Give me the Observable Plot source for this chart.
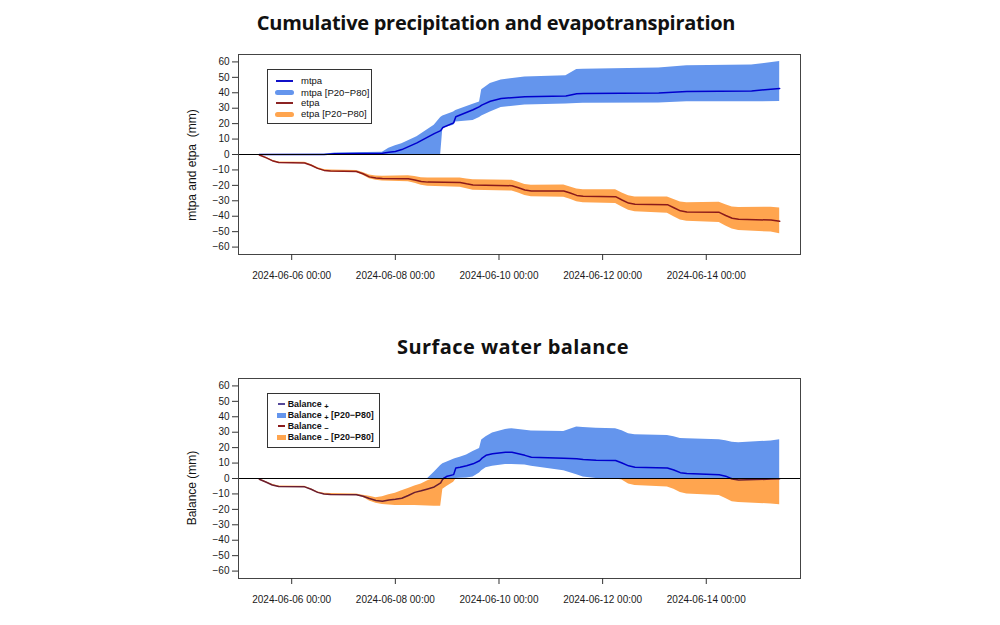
<!DOCTYPE html>
<html><head><meta charset="utf-8">
<script src="https://cdn.jsdelivr.net/npm/d3@7"></script>
<script src="https://cdn.jsdelivr.net/npm/@observablehq/plot@0.6"></script>
<style>
body{margin:0;background:#fff;width:1000px;height:625px;position:relative;overflow:hidden;font-family:"Liberation Sans",Arial,sans-serif;}
.title{position:absolute;width:600px;text-align:center;font-family:"Open Sans",sans-serif;font-weight:700;font-size:20px;line-height:20px;color:#111;white-space:nowrap;}
.chart{position:absolute;left:0;}
.ylab{position:absolute;width:200px;height:14px;line-height:14px;text-align:center;font-size:12px;color:#111;transform:rotate(-90deg);white-space:pre;}
.legend{position:absolute;border:1px solid #333;background:#fff;box-sizing:border-box;}
.row{position:absolute;left:0;right:0;height:12px;}
.row .txt{position:absolute;top:0;line-height:12px;white-space:nowrap;color:#111;}
.sw{position:absolute;}
sub.s{font-size:0.85em;vertical-align:-0.3em;line-height:0;}
</style></head>
<body>
<div class="title" style="left:196px;top:13px;letter-spacing:-0.28px;">Cumulative precipitation and evapotranspiration</div>
<div class="title" style="left:213px;top:337px;letter-spacing:0.45px;">Surface water balance</div>
<div id="c1" class="chart" style="top:40px;"></div>
<div id="c2" class="chart" style="top:364px;"></div>
<div class="ylab" style="left:92px;top:158px;">mtpa and etpa  (mm)</div>
<div class="ylab" style="left:92px;top:481px;">Balance (mm)</div>

<div class="legend" style="left:267px;top:69px;width:105px;height:55px;font-size:9.5px;">
  <div class="row" style="top:5px;"><div class="sw" style="left:8px;width:17px;top:5px;height:1.6px;background:#1010c8;"></div><div class="txt" style="left:33px;">mtpa</div></div>
  <div class="row" style="top:16.7px;"><div class="sw" style="left:7px;width:19px;top:3.5px;height:5px;border-radius:2.5px;background:#6495ED;"></div><div class="txt" style="left:33px;">mtpa [P20−P80]</div></div>
  <div class="row" style="top:27.3px;"><div class="sw" style="left:8px;width:17px;top:5px;height:1.6px;background:#8B2323;"></div><div class="txt" style="left:33px;">etpa</div></div>
  <div class="row" style="top:38.3px;"><div class="sw" style="left:7px;width:19px;top:3.5px;height:5px;border-radius:2.5px;background:#FFA54F;"></div><div class="txt" style="left:33px;">etpa [P20−P80]</div></div>
</div>

<div class="legend" style="left:267px;top:393px;width:113px;height:55px;font-size:8.9px;font-weight:700;">
  <div class="row" style="top:4.3px;"><div class="sw" style="left:9.7px;width:7.5px;top:4.8px;height:2.4px;background:#54489a;"></div><div class="txt" style="left:19.7px;">Balance <sub class="s">+</sub></div></div>
  <div class="row" style="top:15.3px;"><div class="sw" style="left:9px;width:9px;top:3.5px;height:5px;background:#6495ED;"></div><div class="txt" style="left:19.7px;">Balance <sub class="s">+</sub> [P20−P80]</div></div>
  <div class="row" style="top:26.3px;"><div class="sw" style="left:9.7px;width:7.5px;top:4.8px;height:2.4px;background:#8B1A1A;"></div><div class="txt" style="left:19.7px;">Balance <sub class="s">−</sub></div></div>
  <div class="row" style="top:37.3px;"><div class="sw" style="left:9px;width:9px;top:3.5px;height:5px;background:#FFA54F;"></div><div class="txt" style="left:19.7px;">Balance <sub class="s">−</sub> [P20−P80]</div></div>
</div>

<script>
// ---- data ----
const mtpaTimes = ["2024-06-05 09:00","2024-06-06 15:00","2024-06-06 20:00","2024-06-07 18:00","2024-06-07 21:00","2024-06-08 00:00","2024-06-08 03:00","2024-06-08 10:00","2024-06-08 18:00","2024-06-08 21:00","2024-06-08 22:00","2024-06-09 03:00","2024-06-09 04:00","2024-06-09 12:00","2024-06-09 15:00","2024-06-09 16:00","2024-06-09 20:00","2024-06-10 01:00","2024-06-10 12:00","2024-06-11 07:00","2024-06-11 12:00","2024-06-11 15:00","2024-06-13 02:00","2024-06-13 15:00","2024-06-14 21:00","2024-06-15 10:00"];
const mtpaMed = [0,0,0.5,0.8,1.5,2,3.2,7.5,13.5,15.5,17.5,20.5,24.5,29,31,32,34.5,36.3,37.4,37.9,39.3,39.6,39.8,40.8,41.2,42.8];
const mtpaLo  = [0,0,0,0,0,0,0,0,0,0,17,19,21,22,24,25,27.5,30.5,32,32.8,33.1,33.2,33.4,34.2,34.2,34.3];
const mtpaHi  = [0,0.2,1,1.5,4,5.6,7,11.5,19,24,25,27.5,28.5,32.5,34,42,46,48.3,50.2,51,55,55.3,56,57.5,58,60.2];

const etpaTimes = ["2024-06-05 09:00","2024-06-05 12:00","2024-06-05 15:00","2024-06-05 18:00","2024-06-06 06:00","2024-06-06 09:00","2024-06-06 12:00","2024-06-06 15:00","2024-06-06 18:00","2024-06-07 06:00","2024-06-07 09:00","2024-06-07 12:00","2024-06-07 15:00","2024-06-07 18:00","2024-06-08 06:00","2024-06-08 09:00","2024-06-08 12:00","2024-06-08 15:00","2024-06-09 06:00","2024-06-09 09:00","2024-06-09 12:00","2024-06-10 06:00","2024-06-10 09:00","2024-06-10 12:00","2024-06-10 15:00","2024-06-11 06:00","2024-06-11 09:00","2024-06-11 12:00","2024-06-11 15:00","2024-06-12 06:00","2024-06-12 09:00","2024-06-12 12:00","2024-06-12 15:00","2024-06-13 06:00","2024-06-13 09:00","2024-06-13 12:00","2024-06-13 15:00","2024-06-14 06:00","2024-06-14 09:00","2024-06-14 12:00","2024-06-14 15:00","2024-06-15 06:00","2024-06-15 10:00"];
const etpaMed = [-0.3,-2,-4,-5.2,-5.5,-7,-9,-10.3,-10.7,-11,-12.5,-14.5,-15.3,-15.6,-15.7,-16.5,-17.5,-17.9,-18.2,-19,-19.7,-20.2,-21.5,-23,-23.6,-23.7,-25,-26.5,-27.1,-27.3,-29.5,-31.5,-32.3,-32.5,-34.5,-36.5,-37.3,-37.5,-39.5,-41.3,-42,-42.5,-43.3];
const etpaHi  = [-0.1,-1.7,-3.7,-4.8,-5.1,-6.5,-8.4,-9.7,-10.1,-10.3,-11.6,-13.3,-13.9,-14.1,-13.7,-14.3,-15,-15.2,-15.2,-15.8,-16.3,-16.7,-18,-19.4,-19.9,-19.7,-21,-22.4,-22.9,-22.8,-24.9,-26.8,-27.5,-27.5,-29.2,-30.7,-31.3,-31,-32.5,-34,-34.4,-34.2,-34.6];
const etpaLo  = [-0.5,-2.3,-4.3,-5.6,-5.9,-7.5,-9.6,-10.9,-11.3,-11.7,-13.4,-15.7,-16.7,-17.1,-17.7,-18.7,-20,-20.6,-21.2,-22.2,-23.1,-23.7,-25,-26.6,-27.3,-27.7,-29,-30.6,-31.3,-31.8,-34.1,-36.2,-37.1,-38,-40.3,-42.5,-43.3,-44,-46.3,-48.3,-49.2,-50.3,-51.3];

const balTimes = ["2024-06-05 09:00","2024-06-05 12:00","2024-06-05 15:00","2024-06-05 18:00","2024-06-06 06:00","2024-06-06 09:00","2024-06-06 12:00","2024-06-06 15:00","2024-06-06 18:00","2024-06-07 06:00","2024-06-07 09:00","2024-06-07 12:00","2024-06-07 15:00","2024-06-07 18:00","2024-06-07 21:00","2024-06-08 00:00","2024-06-08 03:00","2024-06-08 06:00","2024-06-08 09:00","2024-06-08 12:00","2024-06-08 15:00","2024-06-08 18:00","2024-06-08 21:00","2024-06-08 22:00","2024-06-09 00:00","2024-06-09 03:00","2024-06-09 04:00","2024-06-09 06:00","2024-06-09 09:00","2024-06-09 12:00","2024-06-09 15:00","2024-06-09 16:00","2024-06-09 18:00","2024-06-09 21:00","2024-06-10 03:00","2024-06-10 06:00","2024-06-10 12:00","2024-06-10 15:00","2024-06-11 06:00","2024-06-11 12:00","2024-06-11 15:00","2024-06-11 21:00","2024-06-12 06:00","2024-06-12 09:00","2024-06-12 12:00","2024-06-12 15:00","2024-06-13 06:00","2024-06-13 09:00","2024-06-13 12:00","2024-06-13 15:00","2024-06-14 06:00","2024-06-14 09:00","2024-06-14 12:00","2024-06-14 15:00","2024-06-15 06:00","2024-06-15 10:00"];
const balMed = [-0.5,-2.3,-4.2,-5.2,-5.4,-7,-9,-10,-10.3,-10.5,-11.5,-13,-14.3,-14.8,-14,-13.5,-12.8,-11,-9,-8,-6.8,-5.5,-2.8,-0.3,1.5,2.5,6.8,7.3,8.3,9.5,11.5,13,15,16,17,17,15,13.8,13.2,12.8,12.3,11.9,11.7,10,8.2,7.3,6.8,5.5,3.8,3.3,2.4,1.5,-0.3,-1,-0.4,-0.2];
const balLo  = [-0.9,-2.7,-4.6,-5.6,-5.8,-7.4,-9.4,-10.5,-10.8,-11,-12.2,-14.5,-16,-16.8,-17.2,-17.5,-17.5,-17.5,-17.5,-17.6,-17.8,-18,-18,-7,-5,-2.5,-0.5,0.2,0.3,1,3.5,5,7,8,9,9,8.8,8,5,2.5,1,0,-0.2,-1,-3.5,-4.5,-5.5,-7,-9,-10,-11,-13,-15,-15.5,-16.5,-17];
const balHi  = [-0.1,-1.9,-3.8,-4.8,-5,-6.6,-8.6,-9.5,-9.8,-10,-10.8,-11.5,-12.5,-11.8,-10.5,-9.5,-8,-6.5,-4.8,-3.5,-1.5,4,8.5,9.5,10.7,12.5,13,13.8,15.3,17.5,19.5,25,27,29.5,31.8,32.3,31.3,30.8,30.5,33.4,33,32.5,32.3,31,29,28.4,27.9,27,26,25.8,25.1,24.5,23.5,23.2,24.3,25.1];

const yTicks = [-60,-50,-40,-30,-20,-10,0,10,20,30,40,50,60];
const xTickTimes = ["2024-06-06 00:00","2024-06-08 00:00","2024-06-10 00:00","2024-06-12 00:00","2024-06-14 00:00"];
const xTickLabels = ["2024-06-06 00:00","2024-06-08 00:00","2024-06-10 00:00","2024-06-12 00:00","2024-06-14 00:00"];

// ---- build tables ----
const parse = d3.utcParse("%Y-%m-%d %H:%M");
const mtpa = mtpaTimes.map((t,i)=>({t:parse(t), med:mtpaMed[i], lo:mtpaLo[i], hi:mtpaHi[i]}));
const etpa = etpaTimes.map((t,i)=>({t:parse(t), med:etpaMed[i], lo:etpaLo[i], hi:etpaHi[i]}));
const bal  = balTimes.map((t,i)=>({t:parse(t), med:balMed[i], lo:balLo[i], hi:balHi[i]}));
const xTicks = xTickTimes.map(parse);

const t0 = parse(balTimes[0]), t1 = parse(balTimes[balTimes.length-1]);
const pad = (t1 - t0) * 0.04;
const xDomain = [new Date(+t0 - pad), new Date(+t1 + pad)];
const yDomain = [-64.8, 64.8];

// insert zero crossings so that the balance line changes colour at 0
const balLine = [];
bal.forEach((d,i)=>{
  if (i>0) { const a = bal[i-1];
    if ((a.med<0 && d.med>0) || (a.med>0 && d.med<0)) {
      const f = a.med/(a.med-d.med);
      balLine.push({t:new Date(+a.t + f*(d.t-a.t)), med:0});
    }
  }
  balLine.push(d);
});

const BLUE_BAND = "#6495ED", BLUE_LINE = "#0000CD", ORANGE = "#FFA54F", RED_LINE = "#8B1A1A";

function frameMarks(){
  return [
    Plot.ruleY([0], {stroke:"#000", strokeWidth:1}),
    Plot.frame({stroke:"#444", strokeWidth:1}),
    Plot.axisY(yTicks, {tickSize:6, tickPadding:3, label:null, fontSize:10, stroke:"#333"}),
    Plot.axisX(xTicks, {tickSize:6, tickPadding:11, label:null, fontSize:10, stroke:"#333",
      tickFormat: d => xTickLabels[xTicks.findIndex(t => +t === +d)]})
  ];
}
function makePlot(marks){
  return Plot.plot({
    width:1000, height:254, marginLeft:238, marginRight:200, marginTop:14, marginBottom:40,
    x:{type:"utc", domain:xDomain},
    y:{domain:yDomain},
    style:{fontFamily:"'Liberation Sans', Arial, sans-serif", fontSize:"10px", color:"#1a1a1a", background:"transparent", overflow:"visible"},
    marks:[...marks, ...frameMarks()]
  });
}

const p1 = makePlot([
  Plot.areaY(mtpa, {x:"t", y1:"lo", y2:"hi", fill:BLUE_BAND}),
  Plot.areaY(etpa, {x:"t", y1:"lo", y2:"hi", fill:ORANGE}),
  Plot.ruleY([0], {stroke:"#000", strokeWidth:1}),
  Plot.line(mtpa, {x:"t", y:"med", stroke:BLUE_LINE, strokeWidth:1.5}),
  Plot.line(etpa, {x:"t", y:"med", stroke:RED_LINE, strokeWidth:1.5})
]);
document.getElementById("c1").appendChild(p1);

const p2 = makePlot([
  Plot.areaY(bal, {x:"t", y1:d=>Math.max(d.lo,0), y2:d=>Math.max(d.hi,0), fill:BLUE_BAND}),
  Plot.areaY(bal, {x:"t", y1:d=>Math.min(d.lo,0), y2:d=>Math.min(d.hi,0), fill:ORANGE}),
  Plot.ruleY([0], {stroke:"#000", strokeWidth:1}),
  Plot.line(balLine, {x:"t", y:d=>d.med>=0?d.med:NaN, stroke:BLUE_LINE, strokeWidth:1.5}),
  Plot.line(balLine, {x:"t", y:d=>d.med<=0?d.med:NaN, stroke:"#6a1d30", strokeWidth:1.5})
]);
document.getElementById("c2").appendChild(p2);
</script>
</body></html>
